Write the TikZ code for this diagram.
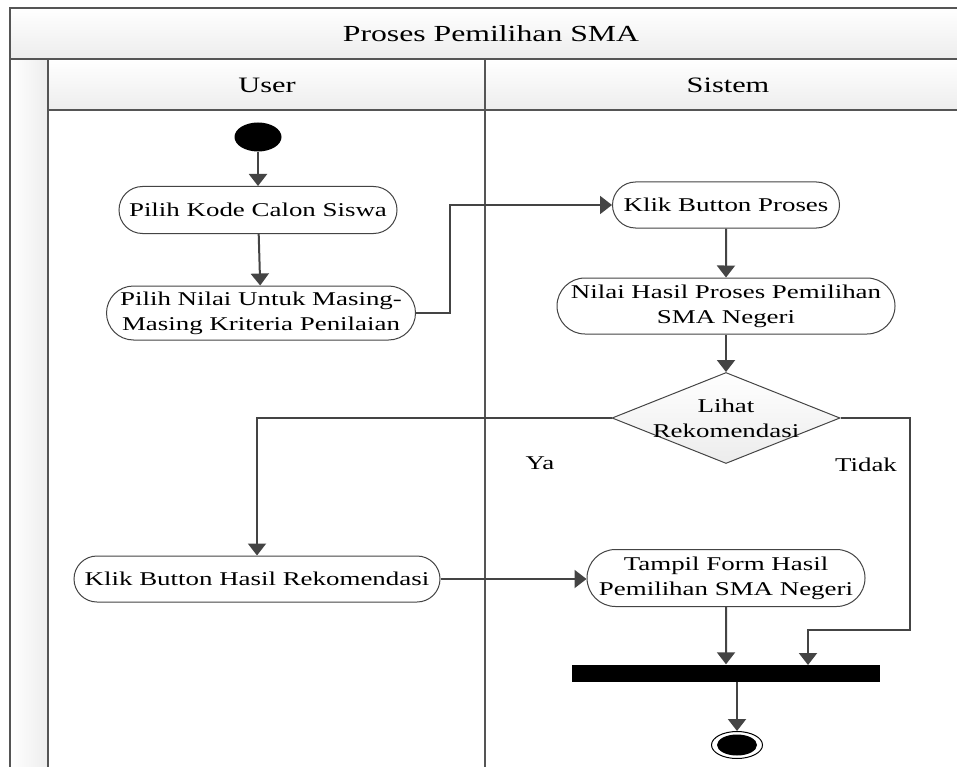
\documentclass[tikz,border=0pt]{standalone}
\usepackage{fontspec}
\setmainfont{Liberation Serif}[FakeStretch=1.38]
\usetikzlibrary{arrows.meta, shapes.geometric, shapes.misc, positioning}
\definecolor{edgegray}{HTML}{444444}
\definecolor{lanegray}{HTML}{555555}
\tikzstyle{arrow} = [line width=2pt, draw=edgegray, -{Triangle[width=18pt,length=12pt,fill=edgegray]}]
\tikzstyle{link} = [line width=2pt, draw=edgegray]
\tikzstyle{activity} = [rounded rectangle, draw=edgegray, line width=1pt, fill=white, align=center, inner sep=2pt, font=\fontsize{19.5}{25}\selectfont]
\tikzstyle{decision} = [diamond, draw=edgegray, line width=1pt, top color=white, bottom color=gray!15, inner sep=0pt, minimum width=228pt, minimum height=91pt]
\tikzstyle{lane} = [draw=lanegray, line width=2pt]
\tikzstyle{lanetitle} = [font=\fontsize{22}{26}\selectfont]
\tikzstyle{guard} = [font=\fontsize{19.5}{25}\selectfont]

\begin{document}
\begin{tikzpicture}[x=1pt, y=-1pt]
\useasboundingbox (0,0) rectangle (957,767);
\fill[white] (0,0) rectangle (957,767);

% swimlanes
\shade[top color=white, bottom color=gray!14] (10,8) rectangle (1000,59);
\shade[left color=white, right color=gray!14] (10,59) rectangle (48,800);
\shade[top color=white, bottom color=gray!14] (48,59) rectangle (1000,110);
\draw[lane] (1000,8) -- (10,8) -- (10,800);
\draw[lane] (10,59) -- (1000,59);
\draw[lane] (48,59) -- (48,800);
\draw[lane] (48,110) -- (1000,110);
\draw[lane] (485,59) -- (485,800);
\node (title) [font=\fontsize{23}{27}\selectfont] at (491,34) {Proses Pemilihan SMA};
\node (useratas) [lanetitle] at (267,85) {User};
\node (sistematas) [lanetitle] at (728,85) {Sistem};

% nodes
\node (start) [ellipse, fill=black, minimum width=47pt, minimum height=29pt, inner sep=0pt] at (258,137) {};
\node (pilihkode) [activity, minimum width=282pt, minimum height=47pt] at (258,210) {Pilih Kode Calon Siswa};
\node (pilihnilai) [activity, minimum width=313pt, minimum height=54pt] at (261,313) {Pilih Nilai Untuk Masing-\\Masing Kriteria Penilaian};
\node (klikproses) [activity, minimum width=231pt, minimum height=46pt] at (726,205) {Klik Button Proses};
\node (nilaihasil) [activity, minimum width=342pt, minimum height=56pt] at (726,306) {Nilai Hasil Proses Pemilihan\\SMA Negeri};
\node (lihat) [decision, label={[guard, align=center]center:Lihat\\Rekomendasi}] at (726,418) {};
\node (klikhasil) [activity, minimum width=370pt, minimum height=46pt] at (257,579) {Klik Button Hasil Rekomendasi};
\node (tampil) [activity, minimum width=282pt, minimum height=57pt] at (726,578) {Tampil Form Hasil\\Pemilihan SMA Negeri};
\node (bar) [rectangle, fill=black, minimum width=308pt, minimum height=17pt, inner sep=0pt] at (726,673) {};
\node (end) [ellipse, draw=black, line width=1pt, minimum width=51pt, minimum height=27pt, inner sep=0pt,
  path picture={\fill[black] (path picture bounding box.center) ellipse (20pt and 10.5pt);}] at (737,745) {};
\node (ya) [guard] at (540,463) {Ya};
\node (tidak) [guard] at (866,465) {Tidak};

\coordinate (naik) at (450,205);
\coordinate (turun) at (910,630);
\coordinate (masukbar) at (808,665);

% connectors
\draw [arrow] (start) -- (pilihkode);
\draw [arrow] (pilihkode) -- (pilihnilai);
\draw [arrow] (pilihnilai.east) -| (naik) -- (klikproses.west);
\draw [arrow] (klikproses) -- (nilaihasil);
\draw [arrow] (nilaihasil) -- (lihat.north);
\draw [arrow] (lihat.west) -| (klikhasil.north);
\draw [arrow] (lihat.east) -| (turun) -| (masukbar);
\draw [arrow] (klikhasil.east) -- (klikhasil.east -| tampil.west);
\draw [arrow] (tampil) -- (tampil |- bar.north);
\draw [arrow] (end |- bar.south) -- (end.north);
\end{tikzpicture}
\end{document}
